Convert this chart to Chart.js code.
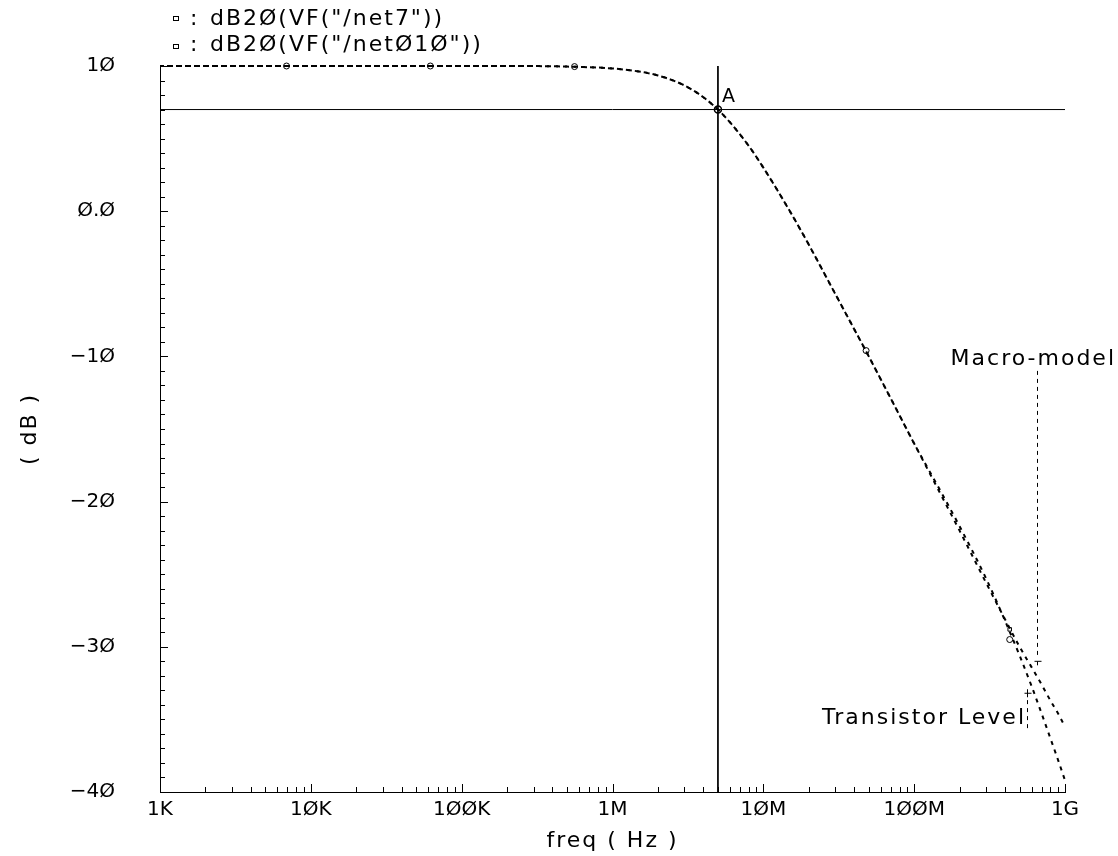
<!DOCTYPE html>
<html>
<head>
<meta charset="utf-8">
<script src="https://cdn.jsdelivr.net/npm/chart.js@4.4.0/dist/chart.umd.min.js"></script>
<style>
  html, body { margin: 0; padding: 0; background: #fff; }
  #wrap { width: 1118px; height: 856px; }
</style>
</head>
<body>
<div id="wrap"><canvas id="myChart"></canvas></div>
<script>
// frequency points in Hz
const freqs = [1e3, 2e3, 5e3, 1e4, 2e4, 5e4, 1e5, 2e5, 5e5, 1e6, 1.5e6, 2e6, 3e6, 4e6, 5e6, 6e6, 8e6,
               1e7, 1.5e7, 2e7, 3e7, 5e7, 7e7, 1e8, 1.5e8, 2e8, 3e8, 4e8, 5e8, 6e8, 7e8, 8e8, 9e8, 1e9];
// dB20(VF("/net7"))  - macro-model
const net7Db = [10, 10, 10, 10, 10, 10, 10, 10, 9.96, 9.83, 9.62, 9.35, 8.66, 7.85, 7.0, 6.13, 4.5,
                3.0, 0.0, -2.3, -5.7, -10.0, -12.9, -16.0, -19.5, -22.0, -25.6, -28.1, -30.0, -31.4, -32.6, -33.7, -34.6, -35.5];
// dB20(VF("/net010")) - transistor level
const net010Db = [10, 10, 10, 10, 10, 10, 10, 10, 9.96, 9.83, 9.62, 9.35, 8.66, 7.85, 7.0, 6.13, 4.5,
                  3.0, 0.0, -2.3, -5.7, -10.0, -12.9, -16.0, -19.3, -21.7, -25.3, -28.2, -30.6, -32.7, -34.6, -36.3, -37.8, -39.2];

// marker symbols along the curves
const markFreqs = [6.9e3, 6.2e4, 5.6e5, 4.8e7, 4.3e8];
const net7MarkDb = [10, 10, 9.96, -9.6, -29.5];
const net010MarkDb = [10, 10, 9.96, -9.6, -28.8];

// cursor A
const cursorFreq = 5e6;
const cursorDb = 7.0;

// axis ticks
const xTicks = [1e3, 1e4, 1e5, 1e6, 1e7, 1e8, 1e9];
const xTickLabels = ['1K', '10K', '100K', '1M', '10M', '100M', '1G'];
const yTicks = [10, 0, -10, -20, -30, -40];
const yTickLabels = ['10', '0.0', '\u221210', '\u221220', '\u221230', '\u221240'];

const legendTexts = ['dB20(VF("/net7"))', 'dB20(VF("/net010"))'];

// slashed zeros as in the plot font
const slash = s => s.replace(/0/g, '\u00D8');

const FONT = 'DejaVu Sans';

const pts = (xs, ys) => xs.map((x, i) => ({x: x, y: ys[i]}));

const cadencePlugin = {
  id: 'cadence',
  afterDraw(chart) {
    const ctx = chart.ctx;
    const xs = chart.scales.x, ys = chart.scales.y;
    const area = chart.chartArea;
    ctx.save();
    ctx.strokeStyle = '#000';
    ctx.fillStyle = '#000';
    ctx.lineWidth = 1;

    // y ticks every 1 dB, pointing inside
    ctx.beginPath();
    for (let v = -40; v <= 10; v++) {
      const py = Math.round(ys.getPixelForValue(v)) + 0.5;
      const len = (v % 10 === 0) ? 8 : 5;
      ctx.moveTo(area.left, py);
      ctx.lineTo(area.left + len, py);
    }
    // x log ticks, pointing up
    for (let d = 3; d <= 9; d++) {
      for (let m = 1; m <= 9; m++) {
        const v = m * Math.pow(10, d);
        if (v > 1e9) break;
        const px = Math.round(xs.getPixelForValue(v)) + 0.5;
        const len = (m === 1) ? 8 : 5;
        ctx.moveTo(px, area.bottom);
        ctx.lineTo(px, area.bottom - len);
      }
    }
    ctx.stroke();

    ctx.letterSpacing = '2px';
    ctx.font = '22px "' + FONT + '"';
    ctx.textBaseline = 'middle';

    // legend
    ctx.textAlign = 'left';
    ctx.fillText(':', 190, 19);
    ctx.fillText(':', 190, 45);
    ctx.fillText(slash(legendTexts[0]), 210, 19);
    ctx.fillText(slash(legendTexts[1]), 210, 45);
    ctx.strokeRect(173.5, 16.5, 5, 4);
    ctx.strokeRect(173.5, 44.5, 5, 4);

    // axis titles
    ctx.textAlign = 'center';
    ctx.fillText('freq ( Hz )', (area.left + area.right) / 2, 841);
    ctx.save();
    ctx.translate(30, (area.top + area.bottom) / 2);
    ctx.rotate(-Math.PI / 2);
    ctx.fillText('( dB )', 0, 0);
    ctx.restore();

    // cursor label
    ctx.textAlign = 'left';
    ctx.font = '19px "' + FONT + '"';
    ctx.letterSpacing = '0px';
    ctx.fillText('A', xs.getPixelForValue(cursorFreq) + 4, ys.getPixelForValue(cursorDb) - 12);

    // annotations
    ctx.font = '22px "' + FONT + '"';
    ctx.letterSpacing = '2px';
    ctx.textAlign = 'right';
    ctx.fillText('Macro-model', 1116, ys.getPixelForValue(-10.2));
    ctx.fillText('Transistor Level', 1026, ys.getPixelForValue(-34.9));

    ctx.setLineDash([4, 4]);
    ctx.beginPath();
    const mx = Math.round(xs.getPixelForValue(6.53e8)) + 0.5;
    ctx.moveTo(mx, ys.getPixelForValue(-11.0));
    ctx.lineTo(mx, ys.getPixelForValue(-30.6));
    const tx = Math.round(xs.getPixelForValue(5.6e8)) + 0.5;
    ctx.moveTo(tx, ys.getPixelForValue(-35.6));
    ctx.lineTo(tx, ys.getPixelForValue(-33.5));
    ctx.stroke();
    ctx.setLineDash([]);
    ctx.beginPath();
    let ay = ys.getPixelForValue(-31.0);
    ctx.moveTo(mx - 3, ay); ctx.lineTo(mx + 4, ay);
    ctx.moveTo(mx, ay); ctx.lineTo(mx, ay + 4);
    ay = ys.getPixelForValue(-33.2);
    ctx.moveTo(tx - 3, ay); ctx.lineTo(tx + 4, ay);
    ctx.moveTo(tx, ay - 4); ctx.lineTo(tx, ay + 4);
    ctx.stroke();

    ctx.restore();
  }
};

const ctx = document.getElementById('myChart').getContext('2d');
const myChart = new Chart(ctx, {
  type: 'line',
  data: {
    datasets: [
      {
        label: legendTexts[0],
        data: pts(freqs, net7Db),
        borderColor: '#000',
        borderWidth: 2,
        borderDash: [4, 5],
        pointRadius: 0,
        clip: 4,
        cubicInterpolationMode: 'monotone'
      },
      {
        label: legendTexts[1],
        data: pts(freqs, net010Db),
        borderColor: '#000',
        borderWidth: 2,
        borderDash: [4, 5],
        borderDashOffset: 2,
        pointRadius: 0,
        clip: 4,
        cubicInterpolationMode: 'monotone'
      },
      {
        label: 'net7 markers',
        data: pts(markFreqs, net7MarkDb),
        showLine: false,
        pointStyle: 'circle',
        pointRadius: 3,
        borderWidth: 1,
        borderColor: '#000',
        backgroundColor: '#fff',
        clip: 6
      },
      {
        label: 'net010 markers',
        data: pts(markFreqs, net010MarkDb),
        showLine: false,
        pointStyle: 'rect',
        pointRadius: 2.5,
        borderWidth: 1,
        borderColor: '#000',
        backgroundColor: '#fff',
        clip: 6
      },
      {
        label: 'cursor x',
        data: [{x: cursorFreq, y: 10}, {x: cursorFreq, y: -40}],
        borderColor: '#000',
        borderWidth: 1,
        pointRadius: 0
      },
      {
        label: 'cursor y',
        data: [{x: 1e3, y: cursorDb}, {x: 1e9, y: cursorDb}],
        borderColor: '#000',
        borderWidth: 1,
        pointRadius: 0
      },
      {
        label: 'cursor A',
        data: [{x: cursorFreq, y: cursorDb}],
        showLine: false,
        pointStyle: 'circle',
        pointRadius: 3.5,
        borderWidth: 1.5,
        borderColor: '#000',
        backgroundColor: 'rgba(0,0,0,0)'
      }
    ]
  },
  options: {
    responsive: true,
    maintainAspectRatio: false,
    animation: false,
    layout: { padding: { top: 66, right: 53, left: 0, bottom: 0 } },
    plugins: {
      legend: { display: false },
      tooltip: { enabled: false },
      title: { display: false }
    },
    scales: {
      x: {
        type: 'logarithmic',
        min: 1e3,
        max: 1e9,
        grid: { display: false, drawTicks: false },
        border: { display: true, color: '#000', width: 1 },
        afterBuildTicks: scale => { scale.ticks = xTicks.map(v => ({value: v})); },
        afterFit: scale => { scale.height = 64; },
        ticks: {
          autoSkip: false,
          maxRotation: 0,
          padding: 6,
          color: '#000',
          font: { family: FONT, size: 20 },
          callback: (value) => slash(xTickLabels[xTicks.indexOf(value)] || '')
        }
      },
      y: {
        min: -40,
        max: 10,
        grid: { display: false, drawTicks: false },
        border: { display: true, color: '#000', width: 1 },
        afterBuildTicks: scale => { scale.ticks = yTicks.map(v => ({value: v})); },
        afterFit: scale => { scale.width = 160; },
        ticks: {
          padding: 45,
          color: '#000',
          font: { family: FONT, size: 20 },
          callback: (value) => slash(yTickLabels[yTicks.indexOf(value)] || '')
        }
      }
    }
  },
  plugins: [cadencePlugin]
});
</script>
</body>
</html>
